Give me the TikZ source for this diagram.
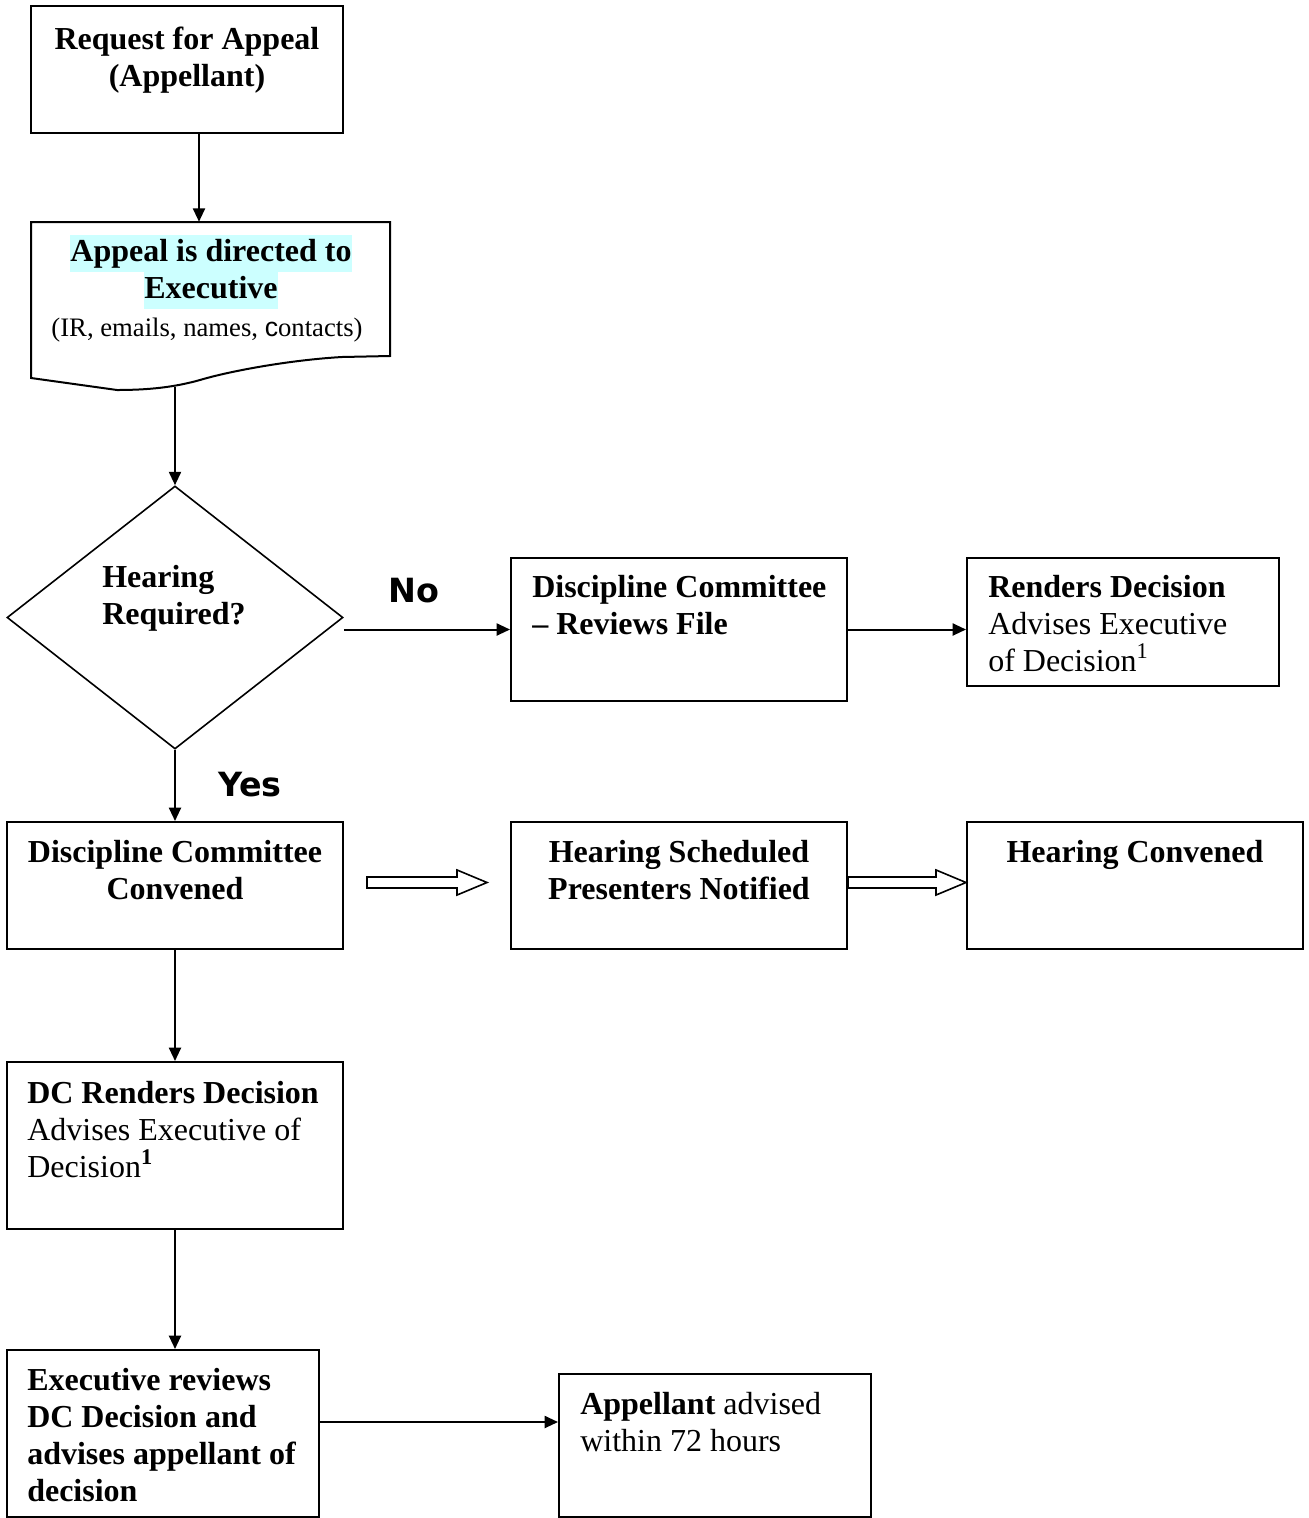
\documentclass[tikz,border=0pt]{standalone}
\usepackage{fontspec}
\setmainfont{Liberation Serif}
\setsansfont{Liberation Sans}
\newfontfamily\yesnofont{DejaVu Sans}
\usetikzlibrary{shapes.geometric,arrows.meta,fit,calc}
\definecolor{hlcyan}{HTML}{CCFFFF}
\newcommand\hlbox[1]{{\setlength{\fboxsep}{0pt}\colorbox{hlcyan}{\strut #1}}}
\newcommand\hollowarrow[2]{%
  \draw[hol] let \p1=(#1), \p2=(#2) in
    (\x1,\y1+4.1pt) -- (\x2-22.5pt,\y1+4.1pt) -- (\x2-22.5pt,\y1+9.4pt) -- (\x2,\y1)
    -- (\x2-22.5pt,\y1-9.4pt) -- (\x2-22.5pt,\y1-4.1pt) -- (\x1,\y1-4.1pt) -- cycle;}
\begin{document}
\begin{tikzpicture}[x=0.75pt,y=-0.75pt,
  box/.style={draw, line width=1.5pt, inner sep=0pt},
  arr/.style={line width=1.5pt, -{Triangle[length=10pt,width=9pt]}},
  hol/.style={draw, line width=1.2pt, fill=white},
  txt/.style={inner sep=0pt, font=\fontsize{24}{27.75}\selectfont},
  small/.style={inner sep=0pt, font=\fontsize{20}{24}\selectfont},
  lab/.style={inner sep=0pt, font=\fontsize{25}{28}\selectfont\yesnofont\bfseries}]

\useasboundingbox (0,0) rectangle (1309,1518);

% boxes
\node[box, fit={(31,6)(343,133)}] (b1) {};
\node[inner sep=0pt, fit={(31,222)(390,390)}] (doc) {};
\draw[line width=1.5pt] (31,222) -- (390,222) -- (390,356) -- (342,357)
  .. controls (290,360) and (230,371) .. (200,380)
  .. controls (175,387) and (150,390) .. (117,390) -- (31,378) -- cycle;
\coordinate (docb) at (175,387);
\node[diamond, draw, line width=1.2pt, inner sep=0pt, minimum width=252pt, minimum height=197.25pt] (dia) at (175,617.5) {};
\node[box, fit={(511,558)(847,701)}] (rev) {};
\node[box, fit={(967,558)(1279,686)}] (ren) {};
\node[box, fit={(7,822)(343,949)}] (conv) {};
\node[box, fit={(511,822)(847,949)}] (sched) {};
\node[box, fit={(967,822)(1303,949)}] (hconv) {};
\node[box, fit={(7,1062)(343,1229)}] (dcr) {};
\node[box, fit={(7,1350)(319,1517)}] (exec) {};
\node[box, fit={(559,1374)(871,1517)}] (app) {};

% texts
\node[txt, anchor=base] (t1) at (187,49) {\parbox[t]{300pt}{\centering\bfseries Request for Appeal\\(Appellant)}};
\node[txt, anchor=base] (t2) at (211,261) {\parbox[t]{300pt}{\centering\bfseries \hlbox{Appeal is directed to}\\\hlbox{Executive}}};
\node[small, anchor=base] (t2b) at (207,336) {(IR, emails, names, {\sffamily c}ontacts)};
\node[txt, anchor=base west] (t3) at (102,587) {\parbox[t]{300pt}{\raggedright\bfseries Hearing\\Required?}};
\node[lab, anchor=base west] (no) at (388,602) {No};
\node[lab, anchor=base west] (yes) at (218,796) {Yes};
\node[txt, anchor=base west] (t4) at (532,597) {\parbox[t]{300pt}{\raggedright\bfseries Discipline Committee\\– Reviews File}};
\node[txt, anchor=base west] (t5) at (988,597) {\parbox[t]{300pt}{\raggedright\textbf{Renders Decision}\\Advises Executive\\of Decision\textsuperscript{1}}};
\node[txt, anchor=base] (t6) at (175,862) {\parbox[t]{300pt}{\centering\bfseries Discipline Committee\\Convened}};
\node[txt, anchor=base] (t7) at (679,862) {\parbox[t]{300pt}{\centering\bfseries Hearing Scheduled\\Presenters Notified}};
\node[txt, anchor=base] (t8) at (1135,862) {\textbf{Hearing Convened}};
\node[txt, anchor=base west] (t9) at (27,1103) {\parbox[t]{300pt}{\raggedright\textbf{DC Renders Decision}\\Advises Executive of\\Decision\textsuperscript{\textbf{1}}}};
\node[txt, anchor=base west] (t10) at (27,1390) {\parbox[t]{300pt}{\raggedright\bfseries Executive reviews\\DC Decision and\\advises appellant of\\decision}};
\node[txt, anchor=base west] (t11) at (580,1414) {\parbox[t]{300pt}{\raggedright\textbf{Appellant} advised\\within 72 hours}};

% connectors
\draw[arr] ([xshift=9pt]b1.south) -- ([xshift=9pt]b1.south |- doc.north);
\draw[arr] (dia.north |- docb) -- (dia.north);
\draw[arr] (dia.east |- rev.west) -- (rev.west);
\draw[arr] (rev.east) -- (rev.east -| ren.west);
\draw[arr] (dia.south) -- (conv.north);
\draw[arr] (conv.south) -- (dcr.north);
\draw[arr] (dcr.south) -- (dcr.south |- exec.north);
\coordinate (ex1) at ($(exec.east)+(0,-11.5)$);
\draw[arr] (ex1) -- (ex1 -| app.west);
\coordinate (ha1) at ($(conv.east)+(23,-3)$);
\coordinate (ha2) at ($(sched.west)+(-23,-3)$);
\hollowarrow{ha1}{ha2}
\coordinate (hb1) at ($(sched.east)+(0,-3)$);
\coordinate (hb2) at ($(hconv.west)+(0,-3)$);
\hollowarrow{hb1}{hb2}
\end{tikzpicture}
\end{document}
